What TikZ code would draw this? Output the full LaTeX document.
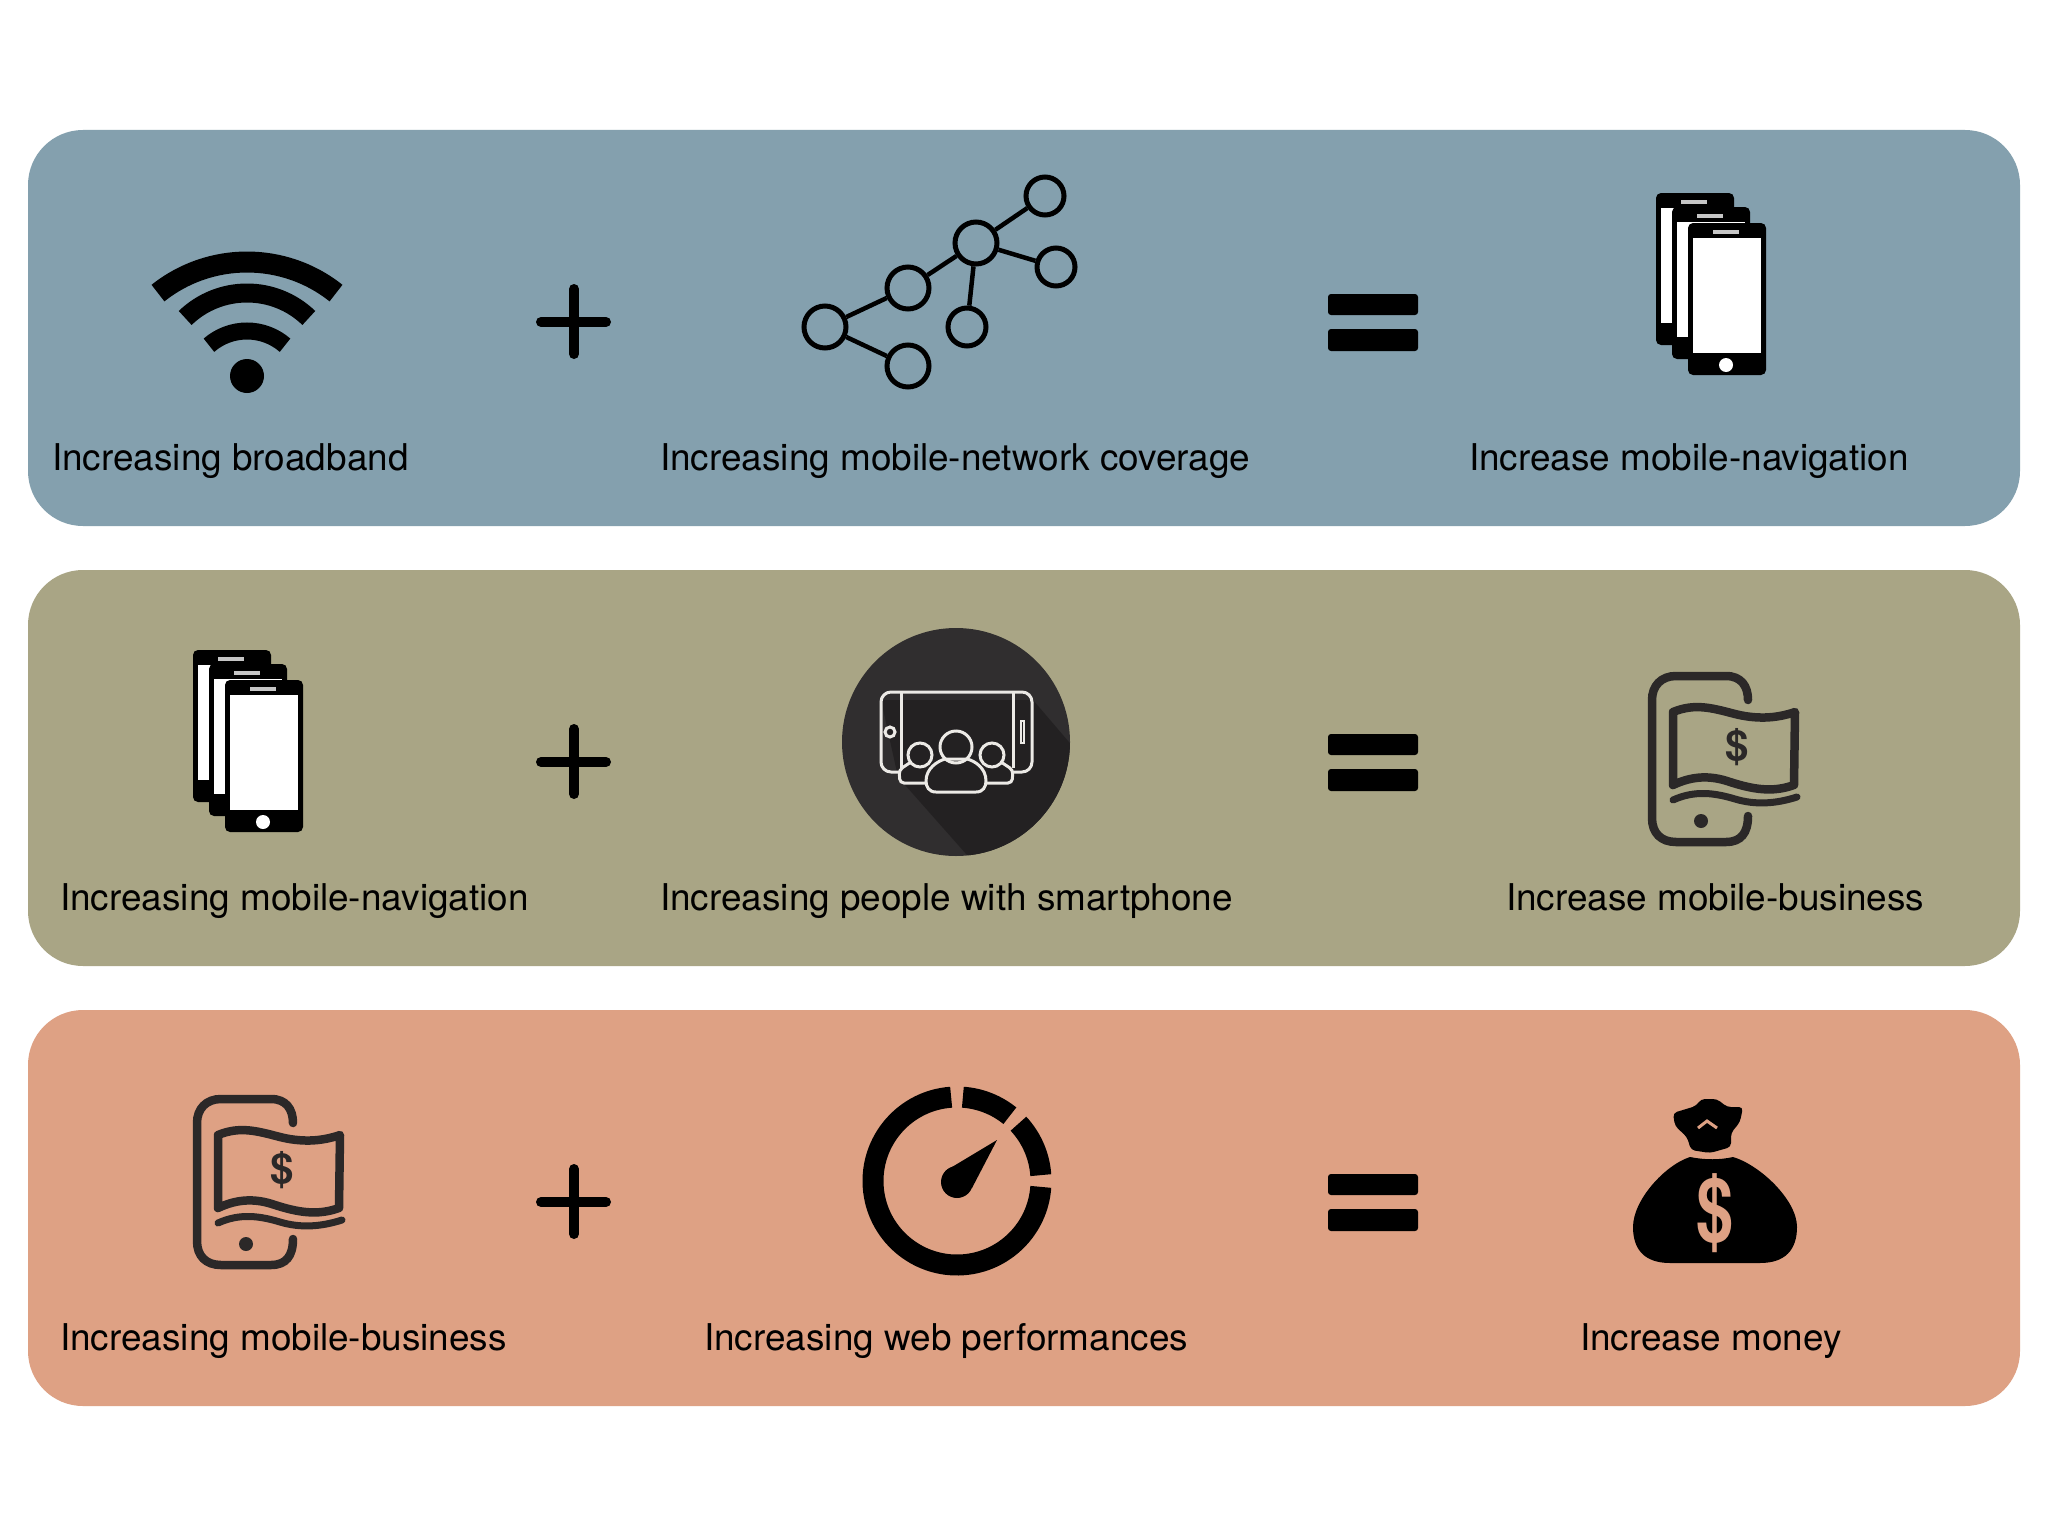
\documentclass[tikz,border=0pt]{standalone}
\usepackage{fontspec}
\setmainfont{TeX Gyre Heros}
\usetikzlibrary{positioning}
\definecolor{panelblue}{HTML}{84A0AE}
\definecolor{panelolive}{HTML}{A9A585}
\definecolor{panelsalmon}{HTML}{DEA184}
\definecolor{iconink}{HTML}{2B2828}
\definecolor{disc}{HTML}{302E2F}
\definecolor{discshade}{HTML}{232122}
\definecolor{discline}{HTML}{ECEAE6}
\tikzset{
    phone/.pic={
        \fill[black, rounded corners=5pt] (1688,223) rectangle (1766,375);
        \fill[white] (1693,238) rectangle (1761,353);
        \fill[gray!45] (1713,230) rectangle (1739,234);
        \fill[white] (1726,365) circle[radius=7];
    },
    phonestack/.pic={
        \pic at (-32,-30) {phone};
        \pic at (-16,-16) {phone};
        \pic at (0,0) {phone};
    },
    moneyphone/.pic={
        \draw[iconink, line width=8.5pt, line cap=round] (1748,700) .. controls (1748,686) and (1741,676) .. (1726,676) -- (1676,676) .. controls (1661,676) and (1652,686) .. (1652,700) -- (1652,818) .. controls (1652,833) and (1661,842) .. (1676,842) -- (1726,842) .. controls (1741,842) and (1748,833) .. (1748,816);
        \fill[iconink] (1701,821) circle[radius=7];
        \draw[iconink, line width=8.5pt, line join=round] (1673,712) .. controls (1695,703) and (1712,708) .. (1735,714) .. controls (1755,719) and (1775,719) .. (1795,712) -- (1794,785) .. controls (1772,793) and (1752,789) .. (1730,782) .. controls (1710,775) and (1692,776) .. (1673,785) -- cycle;
        \draw[iconink, line width=7pt, line cap=round] (1673,800) .. controls (1695,790) and (1715,793) .. (1735,799) .. controls (1755,805) and (1775,804) .. (1797,797);
        \node[text=iconink, font=\fontsize{42}{48}\bfseries\selectfont] (-sign) at (1737,747) {\$};
    },
    plussign/.pic={
        \draw[black, line width=10pt, line cap=round] (574,289) -- (574,354);
        \draw[black, line width=10pt, line cap=round] (541,322) -- (606,322);
    },
    equalsign/.pic={
        \fill[black, rounded corners=3pt] (1328,294) rectangle (1418,315);
        \fill[black, rounded corners=3pt] (1328,329) rectangle (1418,351);
    }
}
\begin{document}
\begin{tikzpicture}[x=1pt,y=-1pt,
    panel/.style={rounded corners=55pt},
    caption/.style={anchor=base west, inner sep=0pt, text=black, font=\fontsize{36.9}{44}\selectfont},
    netnode/.style={circle, draw=black, line width=5pt, inner sep=0pt, minimum size=#1},
    netlink/.style={draw=black, line width=4.5pt},
    wifiarc/.style={black, line width=#1}]
    \useasboundingbox (0,0) rectangle (2048,1536);
    \fill[white] (0,0) rectangle (2048,1536);

    \fill[panel, panelblue] (28,130) rectangle (2020,526);
    \fill[panel, panelolive] (28,570) rectangle (2020,966);
    \fill[panel, panelsalmon] (28,1010) rectangle (2020,1406);

    \draw[wifiarc=21pt] (247,405) ++(-128.5:143) arc[start angle=-128.5, end angle=-51.5, radius=143];
    \draw[wifiarc=19pt] (247,382) ++(-134:89) arc[start angle=-134, end angle=-46, radius=89];
    \draw[wifiarc=17pt] (247,389) ++(-131:58) arc[start angle=-131, end angle=-49, radius=58];
    \fill[black] (247,376) circle[radius=17];

    \pic at (0,0) {plussign};
    \pic at (0,440) {plussign};
    \pic at (0,880) {plussign};
    \pic at (0,0) {equalsign};
    \pic at (0,440) {equalsign};
    \pic at (0,880) {equalsign};

    \node[netnode=42pt] (n_a) at (825,327) {};
    \node[netnode=42pt] (n_b) at (908,288) {};
    \node[netnode=42pt] (n_c) at (908,366) {};
    \node[netnode=42pt] (n_d) at (976,243) {};
    \node[netnode=38pt] (n_e) at (1045,196) {};
    \node[netnode=38pt] (n_f) at (1056,267) {};
    \node[netnode=38pt] (n_g) at (967,327) {};
    \path[netlink]
        (n_a) edge (n_b)
        (n_a) edge (n_c)
        (n_b) edge (n_d)
        (n_d) edge (n_e)
        (n_d) edge (n_f)
        (n_d) edge (n_g);

    \pic at (0,0) {phonestack};
    \pic at (-1463,457) {phonestack};

    \fill[disc] (956,742) circle[radius=114];
    \begin{scope}
        \clip (956,742) circle[radius=114];
        \fill[discshade] (898,777) -- (967,855) -- (1080,855) -- (1080,755) -- (1033,700) -- (881,700) -- cycle;
    \end{scope}
    \draw[discline, line width=3pt, rounded corners=10pt] (899,772) -- (881,772) -- (881,692) -- (1032,692) -- (1032,772) -- (1013,772);
    \draw[discline, line width=3pt] (901,692) -- (901,768) (1013,692) -- (1013,768);
    \draw[discline, line width=3pt] (890,732) circle[radius=5];
    \draw[discline, line width=2pt] (1021,721) rectangle (1023.5,743);
    \draw[discline, line width=3pt, rounded corners=4pt] (926,783) -- (900,783) -- (899,770) -- (911,762);
    \draw[discline, line width=3pt, rounded corners=4pt] (986,783) -- (1012,783) -- (1013,770) -- (1001,762);
    \draw[discline, line width=3pt] (920,755) circle[radius=12];
    \draw[discline, line width=3pt] (992,755) circle[radius=12];
    \draw[discline, line width=3pt, fill=discshade] (936,792) .. controls (929,792) and (926,787) .. (926,781) .. controls (926,768) and (938,761) .. (945,759) -- (967,759) .. controls (975,761) and (986,768) .. (986,781) .. controls (986,787) and (983,792) .. (976,792) -- cycle;
    \draw[discline, line width=3pt] (956,747) circle[radius=16];

    \pic (bill_a) at (0,0) {moneyphone};
    \pic (bill_b) at (-1455,423) {moneyphone};

    \draw[black, line width=21pt] (957,1181) ++(-94:84) arc[start angle=-94, end angle=-356, radius=84];
    \draw[black, line width=21pt] (957,1181) ++(-86:84) arc[start angle=-86, end angle=-51, radius=84];
    \draw[black, line width=21pt] (957,1181) ++(-43:84) arc[start angle=-43, end angle=-4, radius=84];
    \fill[black] (957,1182) circle[radius=16];
    \fill[black] (997,1140) -- (947,1170) -- (972,1188) -- cycle;

    \fill[black] (1690,1157) .. controls (1665,1165) and (1633,1200) .. (1633,1227) .. controls (1633,1250) and (1645,1263) .. (1670,1263) -- (1760,1263) .. controls (1785,1263) and (1797,1250) .. (1797,1227) .. controls (1797,1200) and (1760,1165) .. (1733,1157) .. controls (1720,1160) and (1705,1160) .. (1690,1157) -- cycle;
    \fill[black, rounded corners=4pt] (1673,1113) -- (1696,1106) -- (1701,1099) -- (1717,1099) -- (1727,1107) -- (1743,1107) -- (1740,1122) -- (1731,1133) -- (1731,1147) -- (1710,1153) -- (1691,1150) -- (1687,1137) -- (1675,1126) -- cycle;
    \draw[panelsalmon, line width=3pt] (1698,1128) -- (1707,1121) -- (1717,1128);
    \node[text=panelsalmon, font=\fontsize{89}{96}\bfseries\selectfont] (bag_sign) at (1715,1213) {\scalebox{.75}[1]{\$}};

    \node[caption] (l_a) at (52,470) {Increasing broadband};
    \node[caption] (l_b) at (660,470) {Increasing mobile-network coverage};
    \node[caption] (l_c) at (1469,470) {Increase mobile-navigation};
    \node[caption] (l_d) at (60,910) {Increasing mobile-navigation};
    \node[caption] (l_e) at (660,910) {Increasing people with smartphone};
    \node[caption] (l_f) at (1506,910) {Increase mobile-business};
    \node[caption] (l_g) at (60,1350) {Increasing mobile-business};
    \node[caption] (l_h) at (704,1350) {Increasing web performances};
    \node[caption] (l_i) at (1580,1350) {Increase money};
\end{tikzpicture}
\end{document}
